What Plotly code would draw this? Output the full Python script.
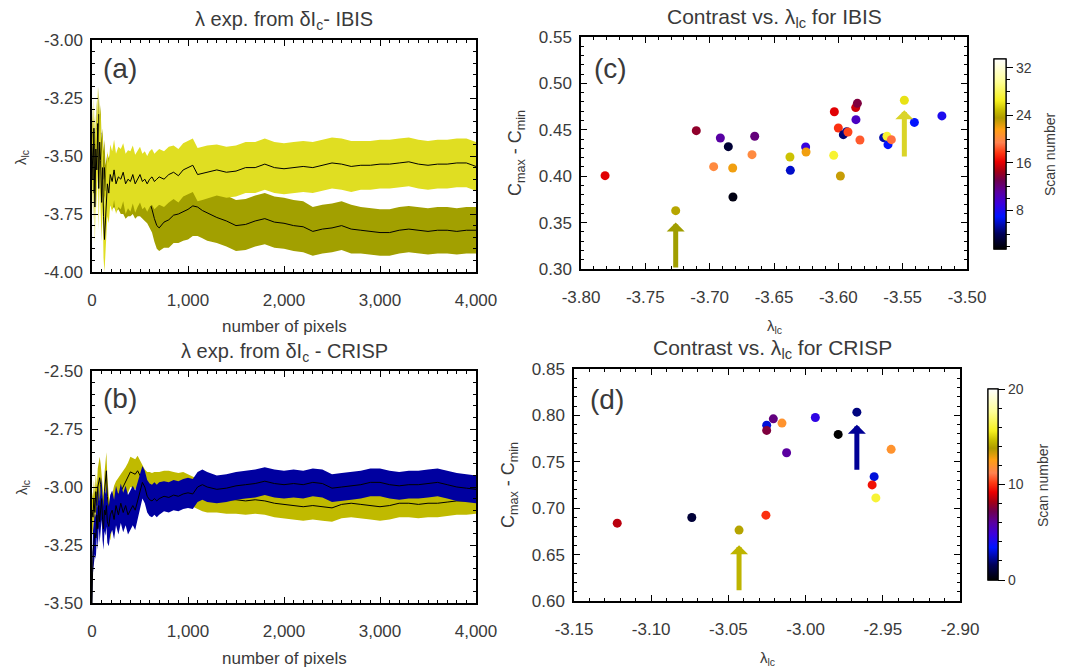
import numpy as np
import plotly.graph_objects as go

W, H = 1068, 668
FONT = "Liberation Sans, Arial, sans-serif"
TXT = "#3a3a3a"

# ---------------- data: panels (a) and (b) ----------------
pixels = [0, 10, 20, 30, 40, 50, 60, 70, 80, 90, 100, 110, 120, 130, 140, 150, 160,
          175, 190, 210, 230, 250,
          275, 300, 325, 350, 375, 400, 425, 450, 475, 500, 525, 550, 575, 600, 625, 650, 675, 700,
          750, 800, 850, 900, 950, 1000, 1050, 1100, 1150, 1200,
          1300, 1400, 1500, 1600, 1700, 1800, 1900, 2000, 2100, 2200, 2300, 2400, 2500, 2600, 2700,
          2800, 2900, 3000, 3100, 3200, 3300, 3400, 3500, 3600, 3700, 3800, 3900, 4000]

ibis_a_mean = [-3.45, -3.60, -3.38, -3.72, -3.47, -3.56, -3.36, -3.64, -3.44, -3.52, -3.70, -3.55, -3.76, -3.86, -3.78, -3.68, -3.62,
               -3.66, -3.58, -3.61, -3.56, -3.62,
               -3.59, -3.60, -3.57, -3.62, -3.60, -3.61, -3.58, -3.62, -3.60, -3.58, -3.61, -3.60, -3.62, -3.60, -3.59, -3.61, -3.60, -3.59,
               -3.60, -3.58, -3.57, -3.585, -3.56, -3.55, -3.54, -3.58, -3.575, -3.57,
               -3.56, -3.57, -3.565, -3.55, -3.55, -3.535, -3.55, -3.555, -3.55, -3.545, -3.55, -3.54, -3.53, -3.535, -3.545,
               -3.54, -3.54, -3.535, -3.535, -3.53, -3.525, -3.535, -3.54, -3.535, -3.535, -3.53, -3.53, -3.545]
ibis_a_err = [0.12, 0.15, 0.14, 0.16, 0.15, 0.17, 0.16, 0.18, 0.17, 0.18, 0.17, 0.16, 0.18, 0.14, 0.15, 0.15, 0.14,
              0.13, 0.13, 0.13, 0.13, 0.13,
              0.13, 0.13, 0.125, 0.13, 0.125, 0.13, 0.125, 0.125, 0.12, 0.12, 0.12, 0.12, 0.12, 0.12, 0.12, 0.12, 0.12, 0.12,
              0.12, 0.12, 0.115, 0.115, 0.115, 0.115, 0.115, 0.115, 0.115, 0.115,
              0.11, 0.11, 0.11, 0.11, 0.11, 0.11, 0.11, 0.11, 0.11, 0.11, 0.11, 0.11, 0.11, 0.11, 0.11,
              0.105, 0.105, 0.105, 0.105, 0.105, 0.105, 0.105, 0.105, 0.105, 0.105, 0.105, 0.105, 0.105]

ibis_b_mean = [-3.55, -3.40, -3.66, -3.45, -3.56, -3.38, -3.50, -3.32, -3.46, -3.40, -3.56, -3.50, -3.60, -3.55, -3.65, -3.62, -3.60,
               -3.62, -3.60, -3.62, -3.61, -3.63,
               -3.62, -3.63, -3.62, -3.64, -3.63, -3.63, -3.62, -3.64, -3.63, -3.63, -3.64, -3.65, -3.67, -3.70, -3.73, -3.77, -3.80, -3.81,
               -3.785, -3.775, -3.755, -3.75, -3.74, -3.73, -3.715, -3.72, -3.735, -3.745,
               -3.765, -3.78, -3.80, -3.795, -3.78, -3.77, -3.785, -3.79, -3.80, -3.805, -3.825, -3.815, -3.81, -3.80, -3.815,
               -3.82, -3.825, -3.83, -3.83, -3.82, -3.815, -3.82, -3.825, -3.82, -3.82, -3.825, -3.82, -3.82]
ibis_b_err = [0.12, 0.12, 0.12, 0.12, 0.12, 0.12, 0.12, 0.12, 0.12, 0.12, 0.12, 0.12, 0.12, 0.12, 0.11, 0.11, 0.11,
              0.11, 0.11, 0.11, 0.11, 0.11,
              0.11, 0.12, 0.13, 0.13, 0.13, 0.13, 0.13, 0.13, 0.13, 0.13, 0.13, 0.13, 0.12, 0.11, 0.10, 0.10, 0.10, 0.10,
              0.11, 0.12, 0.12, 0.125, 0.125, 0.13, 0.13, 0.125, 0.12, 0.12,
              0.11, 0.11, 0.11, 0.11, 0.11, 0.11, 0.11, 0.11, 0.11, 0.11, 0.105, 0.105, 0.105, 0.105, 0.105,
              0.10, 0.10, 0.10, 0.10, 0.10, 0.10, 0.10, 0.10, 0.10, 0.10, 0.10, 0.10, 0.10]

crisp_a_mean = [-3.10, -3.13, -3.05, -3.11, -3.02, -3.08, -3.00, -2.97, -2.96, -2.99, -3.04, -3.08, -3.12, -3.02, -2.96, -2.93, -3.04,
                -3.12, -3.15, -3.10, -3.07, -3.05,
                -3.03, -3.02, -3.00, -2.98, -2.96, -2.935, -2.94, -2.945, -2.93, -2.95, -2.97, -2.99, -3.00, -3.00, -3.005, -3.00, -3.00, -3.00,
                -2.995, -2.995, -3.00, -3.005, -3.00, -3.01, -3.02, -3.03, -3.04, -3.045,
                -3.05, -3.055, -3.055, -3.06, -3.055, -3.06, -3.07, -3.075, -3.08, -3.085, -3.08, -3.085, -3.09, -3.075, -3.07,
                -3.075, -3.08, -3.085, -3.08, -3.07, -3.07, -3.075, -3.07, -3.07, -3.065, -3.06, -3.06, -3.055]
crisp_a_err = [0.08, 0.08, 0.08, 0.08, 0.08, 0.08, 0.08, 0.09, 0.09, 0.09, 0.09, 0.09, 0.08, 0.08, 0.08, 0.08, 0.08,
               0.08, 0.08, 0.075, 0.075, 0.075,
               0.07, 0.07, 0.07, 0.065, 0.065, 0.065, 0.065, 0.065, 0.065, 0.065, 0.065, 0.065, 0.065, 0.065, 0.065, 0.065, 0.065, 0.065,
               0.065, 0.065, 0.065, 0.065, 0.065, 0.065, 0.065, 0.065, 0.065, 0.065,
               0.06, 0.06, 0.06, 0.06, 0.06, 0.06, 0.06, 0.06, 0.06, 0.06, 0.06, 0.06, 0.06, 0.06, 0.06,
               0.06, 0.06, 0.06, 0.06, 0.06, 0.06, 0.06, 0.06, 0.06, 0.06, 0.06, 0.06, 0.06]

crisp_b_mean = [-3.50, -3.28, -3.24, -3.20, -3.22, -3.12, -3.18, -3.08, -3.15, -3.10, -3.05, -3.14, -3.18, -3.10, -3.12, -3.08, -3.15,
                -3.17, -3.12, -3.10, -3.14, -3.08,
                -3.12, -3.07, -3.11, -3.08, -3.12, -3.10, -3.08, -3.10, -3.06, -3.02, -2.98, -3.00, -3.04, -3.055, -3.06, -3.05, -3.06, -3.05,
                -3.04, -3.045, -3.035, -3.04, -3.03, -3.025, -3.03, -3.00, -2.99, -3.00,
                -3.01, -3.005, -2.995, -2.99, -2.985, -2.975, -2.985, -2.99, -2.985, -2.99, -2.98, -2.985, -3.005, -3.00, -2.995,
                -2.99, -2.98, -2.98, -2.99, -2.995, -2.99, -2.99, -2.985, -2.98, -2.99, -3.00, -3.005, -3.01]
crisp_b_err = [0.02, 0.09, 0.09, 0.09, 0.09, 0.09, 0.09, 0.09, 0.09, 0.09, 0.09, 0.09, 0.09, 0.09, 0.09, 0.09, 0.09,
               0.085, 0.085, 0.085, 0.085, 0.085,
               0.085, 0.085, 0.085, 0.085, 0.085, 0.085, 0.085, 0.085, 0.08, 0.075, 0.07, 0.07, 0.07, 0.07, 0.07, 0.07, 0.07, 0.07,
               0.065, 0.065, 0.065, 0.065, 0.065, 0.065, 0.065, 0.065, 0.065, 0.065,
               0.06, 0.06, 0.06, 0.06, 0.06, 0.06, 0.06, 0.06, 0.06, 0.06, 0.06, 0.06, 0.06, 0.06, 0.06,
               0.06, 0.06, 0.06, 0.06, 0.06, 0.06, 0.06, 0.06, 0.06, 0.06, 0.06, 0.06, 0.06]

# ---------------- data: panels (c) and (d) ----------------
ibis_lambda = [-3.7813, -3.7264, -3.7104, -3.6917, -3.6855, -3.6969, -3.6821, -3.6819, -3.6671, -3.6650,
               -3.6373, -3.6376, -3.6254, -3.6251, -3.6036, -3.5984, -3.6031, -3.6000, -3.5961, -3.5935,
               -3.5925, -3.5865, -3.5852, -3.5863, -3.5832, -3.5648, -3.5614, -3.5622, -3.5588, -3.5487,
               -3.5409, -3.5195]
ibis_contrast = [0.4006, 0.3629, 0.4491, 0.4412, 0.4318, 0.4103, 0.4088, 0.3776, 0.4232, 0.4430,
                 0.4063, 0.4207, 0.4315, 0.4261, 0.4225, 0.4002, 0.4695, 0.4519, 0.4448, 0.4480,
                 0.4476, 0.4739, 0.4785, 0.4609, 0.4390, 0.4415, 0.4340, 0.4430, 0.4394, 0.4818,
                 0.4580, 0.4650]
ibis_scan = [16, 24, 14, 11, 3, 20, 22, 2, 20, 12,
             6, 25, 9, 22, 27, 23, 16, 17.5, 4.5, 5,
             18, 15.5, 13.5, 10, 18.5, 5.5, 7, 27, 19, 26,
             7, 8]

crisp_lambda = [-3.1220, -3.0737, -3.0431, -3.0257, -3.0252, -3.0252, -3.0209, -3.0153, -3.0123, -2.9937,
                -2.9789, -2.9668, -2.9446, -2.9556, -2.9569, -2.9545]
crisp_contrast = [0.6839, 0.6900, 0.6764, 0.6925, 0.7895, 0.7838, 0.7963, 0.7917, 0.7598, 0.7977,
                  0.7795, 0.8035, 0.7634, 0.7340, 0.7251, 0.7111]
crisp_scan = [8.5, 1, 14, 10, 3, 7.5, 6.5, 12, 6, 4.5,
              0, 2, 12, 3, 9.5, 16]

# arrows: (x, y_tail, y_tip, colour)
ibis_arrows = [(-3.7264, 0.300, 0.350, "rgb(160,158,0)"), (-3.5487, 0.4196, 0.471, "rgb(218,212,40)")]
crisp_arrows = [(-3.0431, 0.610, 0.660, "rgb(190,180,0)"), (-2.9668, 0.7398, 0.7899, "rgb(0,0,150)")]

colorscale = [[0.0, "rgb(0,0,0)"], [0.08, "rgb(0,0,90)"], [0.17, "rgb(0,20,255)"],
              [0.24, "rgb(60,0,220)"], [0.30, "rgb(90,0,160)"], [0.36, "rgb(110,0,80)"],
              [0.41, "rgb(165,0,20)"], [0.46, "rgb(235,0,0)"], [0.51, "rgb(255,60,20)"],
              [0.56, "rgb(255,130,80)"], [0.63, "rgb(255,160,20)"], [0.69, "rgb(175,155,0)"],
              [0.73, "rgb(200,190,0)"], [0.78, "rgb(245,240,30)"], [0.88, "rgb(255,255,150)"],
              [1.0, "rgb(255,255,255)"]]

# ---------------- layout geometry (pixels) ----------------
boxes = {
    "a": (92, 476, 40, 272),
    "b": (92, 476, 371, 603),
    "c": (581, 967, 37, 269),
    "d": (574, 960, 369, 601),
}


def dom(b):
    x0, x1, y0, y1 = b
    return [x0 / W, x1 / W], [1 - y1 / H, 1 - y0 / H]


fig = go.Figure()


def band(xname, yname, x, mean, err, fillcol):
    x = np.array(x, float)
    m = np.array(mean, float)
    e = np.array(err, float)
    fig.add_trace(go.Scatter(x=np.concatenate([x, x[::-1]]),
                             y=np.concatenate([m + e, (m - e)[::-1]]),
                             fill="toself", fillcolor=fillcol, line=dict(width=0),
                             mode="lines", hoverinfo="skip", showlegend=False,
                             xaxis=xname, yaxis=yname))
    fig.add_trace(go.Scatter(x=x, y=m, mode="lines", line=dict(color="black", width=1),
                             showlegend=False, xaxis=xname, yaxis=yname))


# panel (a): dark series below, light series on top
band("x", "y", pixels, ibis_b_mean, ibis_b_err, "rgb(162,160,0)")
band("x", "y", pixels, ibis_a_mean, ibis_a_err, "rgb(224,222,34)")
# panel (b)
band("x2", "y2", pixels, crisp_a_mean, crisp_a_err, "rgb(192,186,0)")
band("x2", "y2", pixels, crisp_b_mean, crisp_b_err, "rgb(0,0,160)")

cb_common = dict(outlinecolor="black", outlinewidth=1.2, tickcolor="black",
                 tickfont=dict(size=14, color=TXT, family=FONT),
                 xanchor="left", yanchor="middle", xpad=0, ypad=0, lenmode="pixels")

cb_c = dict(x=994 / W, y=1 - 154 / H, len=190, thickness=12)
cb_d = dict(x=988 / W, y=1 - 484.5 / H, len=191, thickness=10)

# minor-tick colourbars (no labels)
fig.add_trace(go.Scatter(x=ibis_lambda, y=ibis_contrast, mode="markers", xaxis="x3", yaxis="y3",
                         showlegend=False, hoverinfo="skip",
                         marker=dict(size=9, opacity=0, color=ibis_scan, colorscale=colorscale, cmin=1.5, cmax=33.5,
                                     showscale=True,
                                     colorbar=dict(cb_common, **cb_c, ticks="outside", ticklen=4,
                                                   showticklabels=False, tickmode="linear", tick0=2, dtick=2))))
fig.add_trace(go.Scatter(x=crisp_lambda, y=crisp_contrast, mode="markers", xaxis="x4", yaxis="y4",
                         showlegend=False, hoverinfo="skip",
                         marker=dict(size=9, opacity=0, color=crisp_scan, colorscale=colorscale, cmin=0, cmax=20,
                                     showscale=True,
                                     colorbar=dict(cb_common, **cb_d, ticks="outside", ticklen=4,
                                                   showticklabels=False, tickmode="linear", tick0=0, dtick=2))))
# main scatter traces with labelled colourbars
fig.add_trace(go.Scatter(x=ibis_lambda, y=ibis_contrast, mode="markers", xaxis="x3", yaxis="y3",
                         showlegend=False,
                         marker=dict(size=9, color=ibis_scan, colorscale=colorscale, cmin=1.5, cmax=33.5,
                                     showscale=True,
                                     colorbar=dict(cb_common, **cb_c, ticks="outside", ticklen=7,
                                                   tickmode="array", tickvals=[8, 16, 24, 32]))))
fig.add_trace(go.Scatter(x=crisp_lambda, y=crisp_contrast, mode="markers", xaxis="x4", yaxis="y4",
                         showlegend=False,
                         marker=dict(size=9, color=crisp_scan, colorscale=colorscale, cmin=0, cmax=20,
                                     showscale=True,
                                     colorbar=dict(cb_common, **cb_d, ticks="outside", ticklen=7,
                                                   tickmode="array", tickvals=[0, 10, 20]))))


def hy(v, fmt):
    return (fmt % v).replace("\u2212", "-")


def axis(domain, rng, tickvals, ticktext, minor_dtick, standoff=4):
    return dict(domain=domain, range=rng, showgrid=False, zeroline=False, automargin=False,
                showline=True, linecolor="black", linewidth=1.5, mirror="allticks",
                ticks="inside", ticklen=6, tickwidth=1, tickcolor="black",
                tickmode="array", tickvals=tickvals, ticktext=ticktext,
                tickfont=dict(size=17, color=TXT, family=FONT),
                minor=dict(dtick=minor_dtick, ticks="inside", ticklen=3, tickcolor="black", tick0=0),
                ticklabelstandoff=standoff)


pix_ticks = [0, 1000, 2000, 3000, 4000]
pix_text = ["0", "1,000", "2,000", "3,000", "4,000"]
ya_ticks = [-4.0, -3.75, -3.5, -3.25, -3.0]
yb_ticks = [-3.5, -3.25, -3.0, -2.75, -2.5]
xc_ticks = [-3.80, -3.75, -3.70, -3.65, -3.60, -3.55, -3.50]
yc_ticks = [0.30, 0.35, 0.40, 0.45, 0.50, 0.55]
xd_ticks = [-3.15, -3.10, -3.05, -3.00, -2.95, -2.90]
yd_ticks = [0.60, 0.65, 0.70, 0.75, 0.80, 0.85]

dxa, dya = dom(boxes["a"])
dxb, dyb = dom(boxes["b"])
dxc, dyc = dom(boxes["c"])
dxd, dyd = dom(boxes["d"])

fig.update_layout(
    width=W, height=H, margin=dict(l=0, r=0, t=0, b=0, autoexpand=False),
    paper_bgcolor="white", plot_bgcolor="white",
    font=dict(family=FONT, color=TXT),
    showlegend=False,
    xaxis=dict(axis(dxa, [0, 4000], pix_ticks, pix_text, 100, 12), anchor="y"),
    yaxis=dict(axis(dya, [-4.0, -3.0], ya_ticks, [hy(v, "%.2f") for v in ya_ticks], 0.05), anchor="x"),
    xaxis2=dict(axis(dxb, [0, 4000], pix_ticks, pix_text, 100, 12), anchor="y2"),
    yaxis2=dict(axis(dyb, [-3.5, -2.5], yb_ticks, [hy(v, "%.2f") for v in yb_ticks], 0.05), anchor="x2"),
    xaxis3=dict(axis(dxc, [-3.80, -3.50], xc_ticks, [hy(v, "%.2f") for v in xc_ticks], 0.01, 12), anchor="y3"),
    yaxis3=dict(axis(dyc, [0.30, 0.55], yc_ticks, ["%.2f" % v for v in yc_ticks], 0.01), anchor="x3"),
    xaxis4=dict(axis(dxd, [-3.15, -2.90], xd_ticks, [hy(v, "%.2f") for v in xd_ticks], 0.01, 12), anchor="y4"),
    yaxis4=dict(axis(dyd, [0.60, 0.85], yd_ticks, ["%.2f" % v for v in yd_ticks], 0.01), anchor="x4"),
)

ann = []


def txt(x, y, text, size, angle=0):
    ann.append(dict(x=x / W, y=1 - y / H, xref="paper", yref="paper", text=text, showarrow=False,
                    font=dict(size=size, color=TXT, family=FONT), textangle=angle,
                    xanchor="center", yanchor="middle"))


txt(284, 20, "λ exp. from δI<sub>c</sub>- IBIS", 20)
txt(284, 352, "λ exp. from δI<sub>c</sub> - CRISP", 20)
txt(774, 18, "Contrast vs. λ<sub>lc</sub> for IBIS", 21)
txt(772, 349, "Contrast vs. λ<sub>lc</sub> for CRISP", 21)
txt(120, 68, "(a)", 28)
txt(120, 398, "(b)", 28)
txt(610, 68, "(c)", 28)
txt(607, 399, "(d)", 28)
txt(284, 326, "number of pixels", 17)
txt(284, 658, "number of pixels", 17)
txt(774, 326, "λ<sub>lc</sub>", 15)
txt(767, 658, "λ<sub>lc</sub>", 15)
txt(22, 157, "λ<sub>lc</sub>", 15, -90)
txt(22, 487, "λ<sub>lc</sub>", 15, -90)
txt(516, 153, "C<sub>max</sub> - C<sub>min</sub>", 18, -90)
txt(509, 485, "C<sub>max</sub> - C<sub>min</sub>", 18, -90)
txt(1050, 154, "Scan number", 14, -90)
txt(1043, 485, "Scan number", 14, -90)

for (xa, yt, yh, col) in ibis_arrows:
    ann.append(dict(x=xa, y=yh, ax=xa, ay=yt, xref="x3", yref="y3", axref="x3", ayref="y3",
                    text="", showarrow=True, arrowhead=1, arrowsize=0.6, arrowwidth=5, arrowcolor=col))
for (xa, yt, yh, col) in crisp_arrows:
    ann.append(dict(x=xa, y=yh, ax=xa, ay=yt, xref="x4", yref="y4", axref="x4", ayref="y4",
                    text="", showarrow=True, arrowhead=1, arrowsize=0.6, arrowwidth=5, arrowcolor=col))

fig.update_layout(annotations=ann)
fig.write_html("out.html")
